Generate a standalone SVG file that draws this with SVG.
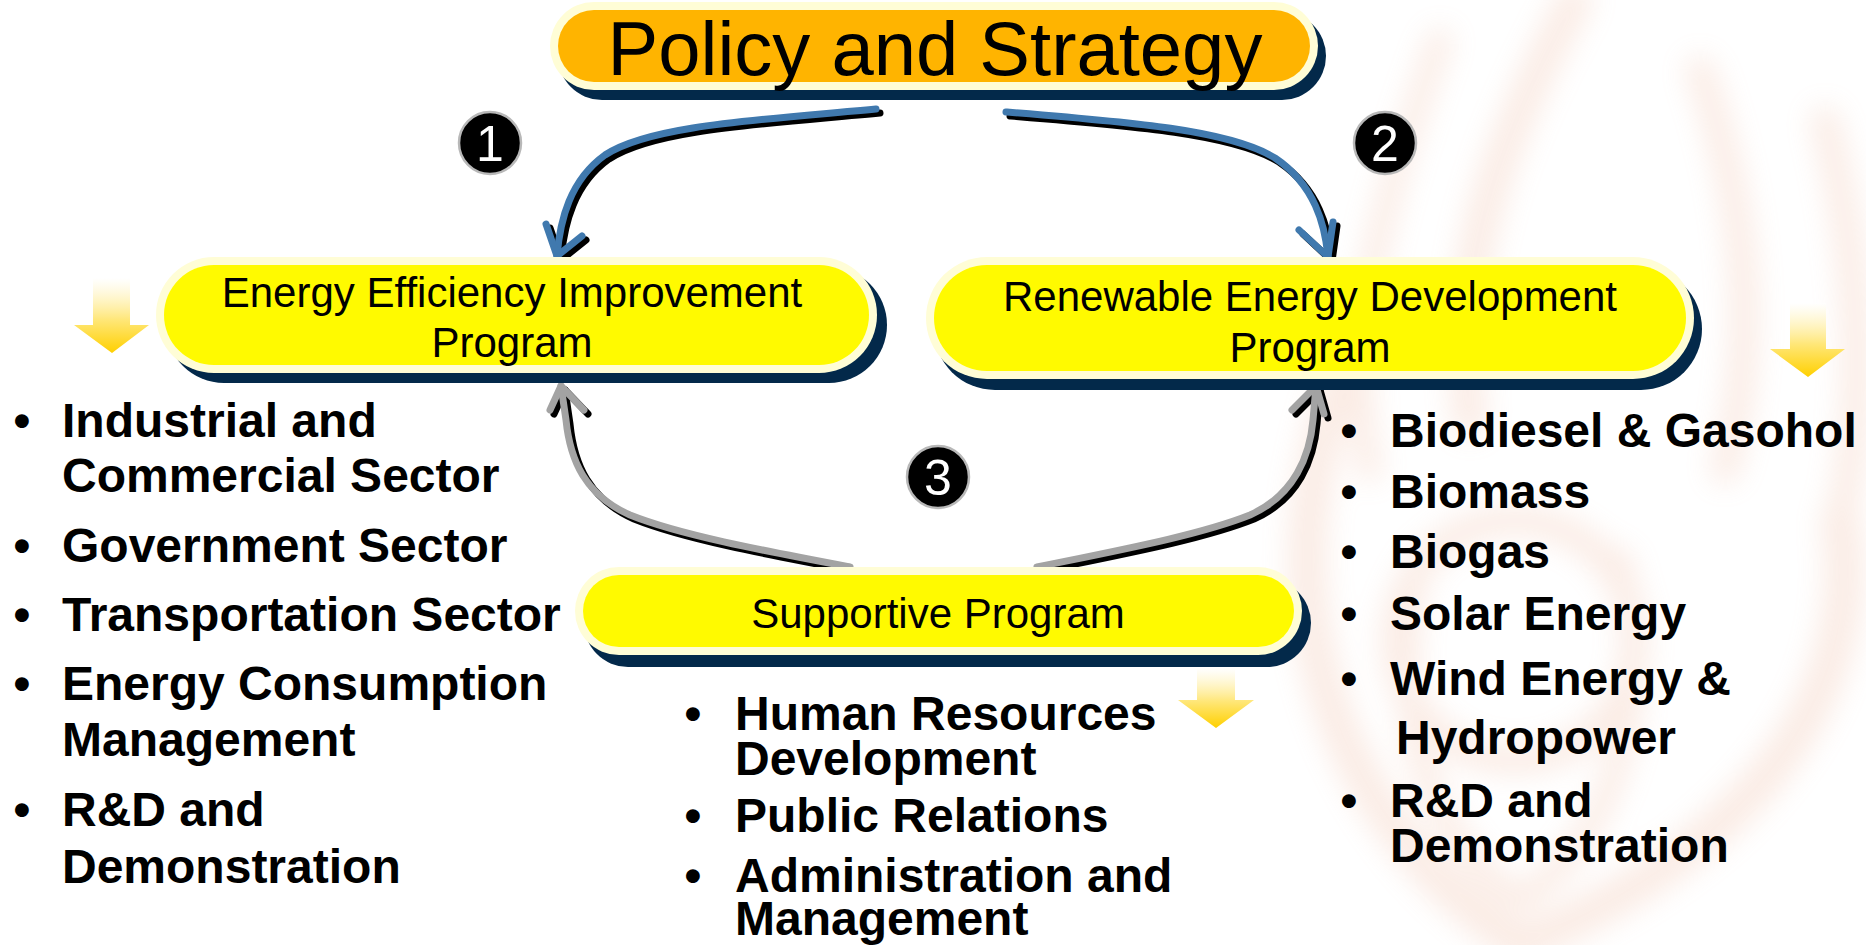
<svg xmlns="http://www.w3.org/2000/svg" width="1866" height="945" viewBox="0 0 1866 945">
<defs>
<style>
.cream{fill:#FFFDD6;}
.shadow{fill:#03294A;}
.yellow{fill:#FFFA00;}
.orange{fill:#FFB400;}
.lbl{font-family:"Liberation Sans",Arial,sans-serif;font-size:42px;fill:#000;text-anchor:middle;}
.title{font-family:"Liberation Sans",Arial,sans-serif;font-size:76px;fill:#000;text-anchor:middle;}
.item{font-family:"Liberation Sans",Arial,sans-serif;font-size:48px;font-weight:bold;fill:#000;}
.bul{font-family:"Liberation Sans",Arial,sans-serif;font-size:48px;font-weight:bold;fill:#000;text-anchor:middle;}
.badge{fill:#000;stroke:#B8B8B8;stroke-width:2.5;}
.num{font-family:"Liberation Sans",Arial,sans-serif;font-size:50px;fill:#fff;text-anchor:middle;}
.sh{fill:none;stroke:#000;stroke-width:7;stroke-linecap:round;stroke-linejoin:round;}
.blue{fill:none;stroke:#4079AE;stroke-width:7;stroke-linecap:round;stroke-linejoin:round;}
.gray{fill:none;stroke:#A3A3A3;stroke-width:7;stroke-linecap:round;stroke-linejoin:round;}
.wm{fill:none;stroke:#E9A07E;stroke-linecap:round;}
</style>
<linearGradient id="dg" x1="0" y1="0" x2="0" y2="1">
<stop offset="0" stop-color="#FFFFFF" stop-opacity="0.6"/>
<stop offset="0.55" stop-color="#FFE77A"/>
<stop offset="1" stop-color="#FFD000"/>
</linearGradient>
<filter id="blur" x="-20%" y="-20%" width="140%" height="140%"><feGaussianBlur stdDeviation="14"/></filter>
</defs>
<rect width="1866" height="945" fill="#fff"/>

<g id="watermark" filter="url(#blur)" opacity="0.2">
<path class="wm" stroke-width="34" d="M1575,0 C1510,120 1450,250 1470,420"/>
<path class="wm" stroke-width="24" d="M1440,40 C1390,180 1340,330 1370,470"/>
<path class="wm" stroke-width="28" d="M1700,70 C1745,200 1760,330 1725,470"/>
<path class="wm" stroke-width="28" d="M1825,120 C1860,260 1866,400 1840,520"/>
<path class="wm" stroke-width="38" d="M1340,380 C1260,600 1330,820 1520,945"/>
<path class="wm" stroke-width="38" d="M1840,520 C1870,720 1720,860 1520,945"/>
<path class="wm" stroke-width="24" d="M1420,560 C1380,720 1440,850 1520,900 C1600,850 1660,720 1620,560"/>
<circle class="wm" stroke-width="28" cx="1515" cy="640" r="120"/>
</g>

<g id="connectors">
<g id="arrow1">
<g transform="translate(4,4)">
<path class="sh" d="M876,109 C760,120 650,125 605,155 C570,180 560,220 557,256"/>
<path class="sh" d="M546,224 L557,256 L582,236"/>
</g>
<path class="blue" d="M876,109 C760,120 650,125 605,155 C570,180 560,220 557,256"/>
<path class="blue" d="M546,224 L557,256 L582,236"/>
</g>
<g id="arrow2">
<g transform="translate(4,4)">
<path class="sh" d="M1006,112 C1130,122 1230,130 1275,158 C1315,185 1325,225 1328,257"/>
<path class="sh" d="M1299,230 L1328,257 L1333,222"/>
</g>
<path class="blue" d="M1006,112 C1130,122 1230,130 1275,158 C1315,185 1325,225 1328,257"/>
<path class="blue" d="M1299,230 L1328,257 L1333,222"/>
</g>
<g id="arrow3">
<g transform="translate(4,4)">
<path class="sh" d="M850,567 C760,550 680,535 630,515 C585,495 570,460 566,420 L561,386"/>
<path class="sh" d="M550,410 L561,386 L584,410"/>
<path class="sh" d="M1037,567 C1120,550 1200,535 1250,515 C1295,495 1310,455 1313,420 L1316,386"/>
<path class="sh" d="M1292,410 L1316,386 L1324,414"/>
</g>
<path class="gray" d="M850,567 C760,550 680,535 630,515 C585,495 570,460 566,420 L561,386"/>
<path class="gray" d="M550,410 L561,386 L584,410"/>
<path class="gray" d="M1037,567 C1120,550 1200,535 1250,515 C1295,495 1310,455 1313,420 L1316,386"/>
<path class="gray" d="M1292,410 L1316,386 L1324,414"/>
</g>
</g>

<g id="policy">
<rect class="shadow" x="558" y="12" width="768" height="88" rx="44"/>
<rect class="cream" x="550" y="2" width="768" height="88" rx="44"/>
<rect class="orange" x="558" y="10" width="752" height="72" rx="36"/>
<text class="title" x="935" y="75">Policy and Strategy</text>
</g>

<g id="efficiency">
<rect class="shadow" x="166" y="267" width="721" height="116" rx="58"/>
<rect class="cream" x="156" y="257" width="721" height="116" rx="58"/>
<rect class="yellow" x="164" y="265" width="705" height="100" rx="50"/>
<text class="lbl" x="512" y="307">Energy Efficiency Improvement</text>
<text class="lbl" x="512" y="357">Program</text>
</g>

<g id="renewable">
<rect class="shadow" x="934" y="268" width="768" height="122" rx="61"/>
<rect class="cream" x="926" y="257" width="768" height="122" rx="61"/>
<rect class="yellow" x="934" y="265" width="752" height="106" rx="53"/>
<text class="lbl" x="1310" y="311">Renewable Energy Development</text>
<text class="lbl" x="1310" y="362">Program</text>
</g>

<g id="supportive">
<rect class="shadow" x="584" y="579" width="727" height="88" rx="44"/>
<rect class="cream" x="575" y="567" width="727" height="88" rx="44"/>
<rect class="yellow" x="583" y="575" width="711" height="72" rx="36"/>
<text class="lbl" x="938" y="628">Supportive Program</text>
</g>

<g id="badges">
<g id="badge1"><circle class="badge" cx="490" cy="143" r="31"/><text class="num" x="490" y="161">1</text></g>
<g id="badge2"><circle class="badge" cx="1385" cy="143" r="31"/><text class="num" x="1385" y="161">2</text></g>
<g id="badge3"><circle class="badge" cx="938" cy="477" r="31"/><text class="num" x="938" y="495">3</text></g>
</g>

<g id="down-arrows">
<path fill="url(#dg)" d="M93,278 H130 V325 H149 L112,353 L74,325 H93 Z"/>
<path fill="url(#dg)" d="M1790,303 H1826 V349 H1845 L1808,377 L1770,349 H1790 Z"/>
<path fill="url(#dg)" d="M1197,668 H1235 V700 H1254 L1216,728 L1178,700 H1197 Z"/>
</g>

<g id="list-efficiency">
<text class="bul" x="22" y="437">•</text>
<text class="item" x="62" y="437">Industrial and</text>
<text class="item" x="62" y="492">Commercial Sector</text>
<text class="bul" x="22" y="562">•</text>
<text class="item" x="62" y="562">Government Sector</text>
<text class="bul" x="22" y="631">•</text>
<text class="item" x="62" y="631">Transportation Sector</text>
<text class="bul" x="22" y="700">•</text>
<text class="item" x="62" y="700">Energy Consumption</text>
<text class="item" x="62" y="756">Management</text>
<text class="bul" x="22" y="826">•</text>
<text class="item" x="62" y="826">R&amp;D and</text>
<text class="item" x="62" y="883">Demonstration</text>
</g>

<g id="list-renewable">
<text class="bul" x="1349" y="447">•</text>
<text class="item" x="1390" y="447">Biodiesel &amp; Gasohol</text>
<text class="bul" x="1349" y="508">•</text>
<text class="item" x="1390" y="508">Biomass</text>
<text class="bul" x="1349" y="568">•</text>
<text class="item" x="1390" y="568">Biogas</text>
<text class="bul" x="1349" y="630">•</text>
<text class="item" x="1390" y="630">Solar Energy</text>
<text class="bul" x="1349" y="695">•</text>
<text class="item" x="1390" y="695">Wind Energy &amp;</text>
<text class="item" x="1396" y="754">Hydropower</text>
<text class="bul" x="1349" y="817">•</text>
<text class="item" x="1390" y="817">R&amp;D and</text>
<text class="item" x="1390" y="862">Demonstration</text>
</g>

<g id="list-supportive">
<text class="bul" x="693" y="730">•</text>
<text class="item" x="735" y="730">Human Resources</text>
<text class="item" x="735" y="775">Development</text>
<text class="bul" x="693" y="832">•</text>
<text class="item" x="735" y="832">Public Relations</text>
<text class="bul" x="693" y="892">•</text>
<text class="item" x="735" y="892">Administration and</text>
<text class="item" x="735" y="935">Management</text>
</g>
</svg>
